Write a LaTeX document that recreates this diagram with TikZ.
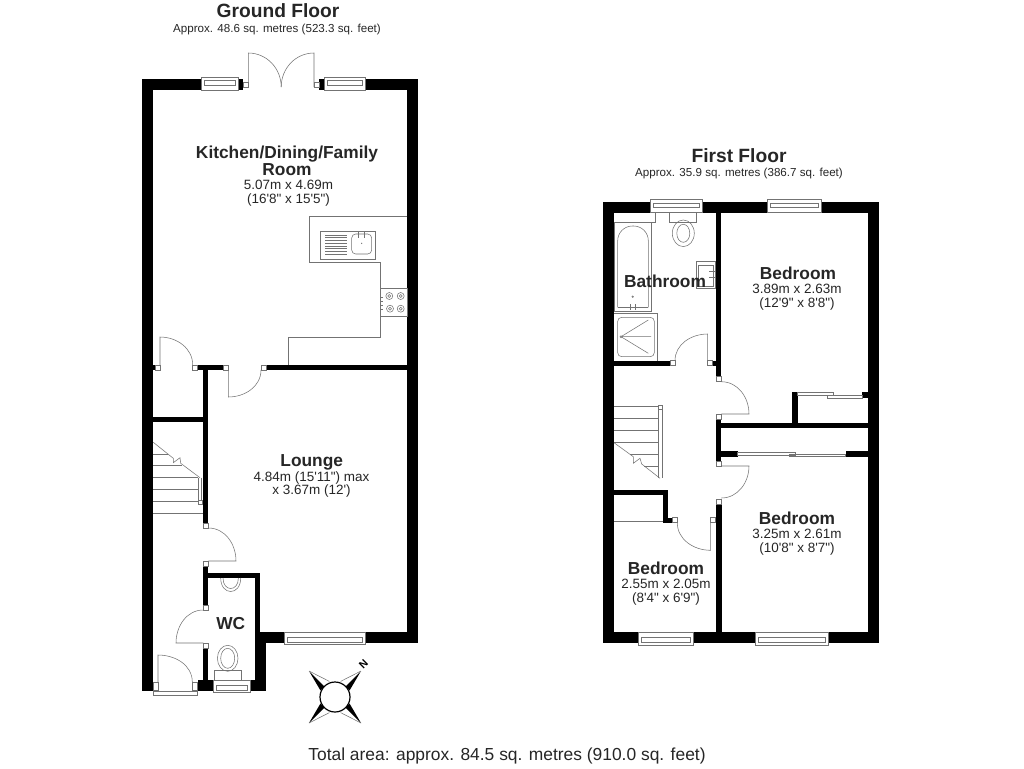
\documentclass[tikz,border=0pt]{standalone}
\usepackage{fontspec}
\newfontfamily\planfont{Liberation Sans}
\tikzset{
  wall/.style={fill=black,draw=none},
  fixture/.style={draw=black!55,line width=0.4pt},
  floorname/.style={font=\planfont\bfseries\fontsize{14.4}{15}\selectfont,text=black!85},
  floorarea/.style={font=\planfont\fontsize{8.7}{10}\selectfont,text=black!85},
  roomname/.style={font=\planfont\bfseries\fontsize{13}{12.75}\selectfont,text=black!85,align=center},
  roomsize/.style={font=\planfont\fontsize{10.1}{10.2}\selectfont,text=black!85,align=center}
}

\begin{document}
\begin{tikzpicture}[x=0.75pt,y=-0.75pt]
  \useasboundingbox (0,0) rectangle (1024,768);
  \fill[white] (0,0) rectangle (1024,768);

  % The walls of the ground floor
  \foreach \xa/\ya/\xb/\yb in {142.3/79.3/153.3/691, 142.3/79.3/201.7/90.3, 238.3/79.3/243.3/90.3,
    319/79.3/324/90.3, 365/79.3/418/90.3, 407.3/79.3/418/643, 260/632/284/643, 365.7/632/418/643,
    255/573/260.3/632, 255/632/266/691, 203.3/573/260.3/578, 203.3/365/208.3/523, 203.3/566/208.3/605,
    203.3/648/208.3/680, 197.7/680/213.3/691, 250/680/266/691, 197.7/365/223/370, 266.7/365/407.3/370,
    153.3/365/155/370, 153.3/416.7/203.3/422.3}
  {
    \fill[wall] (\xa,\ya) rectangle (\xb,\yb);
  }
  % The walls of the first floor
  \foreach \xa/\ya/\xb/\yb in {603/202/614/643.3, 603/202/650/212.7, 702.3/202/767/212.7, 821/202/879/212.7,
    868/202/879/643.3, 603/632.3/638.3/643.3, 693.3/632.3/755.7/643.3, 828.3/632.3/879/643.3,
    715.7/212.7/721/376.7, 716/419/721.3/461, 715.7/504/721.7/632.3, 712.7/360.7/721/365.7,
    614/360.7/670/365.7, 721/422.7/868/428.3, 792.3/392.3/797.7/423, 862.3/392.3/868/398.3,
    721.3/451/737.7/456.7, 845.7/451/868/456.7, 614/490/668.3/495, 663.3/490/668.3/522.7,
    663.3/517.7/672.3/522.7}
  {
    \fill[wall] (\xa,\ya) rectangle (\xb,\yb);
  }

  % The windows
  \foreach \xa/\xb/\ya/\yb/\yc/\yd in {201.7/238.3/77/90.3/80.7/85.3, 324/365/77/90.3/80.7/85.3,
    284/365.7/632/644.5/637/642, 213.3/250/680/692.7/685.7/690,
    650/702.3/199.3/212.7/203/207.5, 767/821/199.3/212.7/203/207.5,
    638.3/693.3/632.3/645/637.5/642.5, 755.7/828.3/632.3/645/637.5/642.5}
  {
    \draw[fixture,fill=white] (\xa,\ya) rectangle (\xb,\yb);
    \draw[fixture] (\xa+3,\yc) rectangle (\xb-3,\yd);
  }

  % The door jambs
  \foreach \xa/\ya in {155/365, 192.7/365, 223/365, 261/365, 203.3/523, 203.3/561, 203.3/605, 203.3/643,
    243.3/82.7, 314/82.7, 670/360.7, 707.7/360.7, 716/376.7, 716/414, 716/461, 716/499, 672.3/517.7, 710.7/517.7}
  {
    \draw[fixture,fill=white] (\xa,\ya) rectangle +(5,5);
  }
  \draw[fixture,fill=white] (153.3,682) rectangle (158,690);
  \draw[fixture,fill=white] (192.3,682) rectangle (197,690);
  \draw[fixture,fill=white] (153.3,691) rectangle (197,695);

  % The doors of the ground floor
  \draw[fixture] (248.3,87) -- (248.3,53) to[out=0,in=90] (281.2,87);
  \draw[fixture] (314,87) -- (314,53) to[out=180,in=90] (281.2,87);
  \draw[fixture] (160,365) -- (160,337) to[out=0,in=90] (192.7,365);
  \draw[fixture] (228.3,370) -- (228.3,397) to[out=0,in=-90] (261,370);
  \draw[fixture] (208.3,528) to[out=0,in=90] (236,561) -- (208.3,561);
  \draw[fixture] (203.3,610) to[out=180,in=90] (176,643) -- (203.3,643);
  \draw[fixture] (158,682) -- (158,655) to[out=0,in=90] (192.3,682);
  % The doors of the first floor
  \draw[fixture] (707.7,360.7) -- (707.7,334) to[out=180,in=90] (675,360.7);
  \draw[fixture] (721.3,381.7) to[out=0,in=90] (749,414) -- (721.3,414);
  \draw[fixture] (721.3,466) -- (749,466) to[out=-90,in=0] (721.3,498);
  \draw[fixture] (677.3,522.7) to[out=-90,in=180] (710.7,550.3) -- (710.7,522.7);
  % The sliding doors
  \draw[fixture] (797.7,392.3) rectangle (833.3,395);
  \draw[fixture] (827.3,395.7) rectangle (862.3,398.3);
  \draw[fixture] (737.7,452.3) rectangle (795,455);
  \draw[fixture] (789,454.3) rectangle (845.7,456.7);
  \draw[fixture] (614,521.7) -- (663.3,521.7);

  % The stairs of the ground floor
  \foreach \coo/\xb in {454/168, 465/182, 477.3/198.3, 489.3/198.3, 501/198.3}
  {
    \draw[fixture] (153.3,\coo) -- (\xb,\coo);
  }
  \draw[fixture] (153.3,513.3) -- (203.3,513.3);
  \draw[fixture] (153.3,442.3) -- (173.3,458.3) -- (173.3,462.7) -- (180,457.7) -- (180.7,463.3) -- (200,477.7);
  \draw[fixture] (198.3,477.7) -- (198.3,501) (201.7,477.7) -- (201.7,501);
  \draw[fixture,fill=white] (198,500) rectangle +(4,4);
  % The stairs of the first floor
  \foreach \xa/\coo in {614/406.7, 614/418.3, 614/430.7, 614/442.3, 630/454.3, 644/466}
  {
    \draw[fixture] (\xa,\coo) -- (658.3,\coo);
  }
  \draw[fixture] (614,442.7) -- (633.3,456.7) -- (633.3,463.3) -- (640,458.3) -- (641.7,464) -- (660,478.3);
  \draw[fixture] (658.3,406.7) -- (658.3,478.3) (662.3,406.7) -- (662.3,478.3);
  \draw[fixture,fill=white] (658.3,405) rectangle +(4,4);

  % The kitchen
  \draw[fixture] (407.3,216) -- (309.3,216) -- (309.3,262.7) -- (380.7,262.7) -- (380.7,337.3) -- (288.3,337.3) -- (288.3,365);
  \draw[fixture] (320,231) rectangle (375,259);
  \foreach \coo in {235,237.7,...,254.5}
  {
    \draw[fixture] (325,\coo) -- (346.7,\coo);
  }
  \draw[fixture,rounded corners=3pt] (351.7,234) rectangle (371.7,254);
  \draw[fixture] (358,232) -- (358,238) (364,232) -- (364,238);
  \fill[black!55] (361.7,243.3) circle[radius=0.7];
  \draw[fixture] (380.7,288) rectangle (407.3,316);
  \foreach \xa/\ya in {389.3/296, 400.7/296, 390/308.7, 400.7/308.7}
  {
    \draw[fixture] (\xa,\ya) circle[radius=3.5];
    \draw[fixture] (\xa,\ya) circle[radius=1.5];
  }
  \foreach \coo in {297,301,305,309}
  {
    \draw[fixture] (381,\coo) -- (382.5,\coo);
  }

  % The WC
  \draw[fixture] (220.7,578) .. controls (220.7,596) and (240.7,596) .. (240.7,578);
  \draw[fixture] (223,578) .. controls (223,592) and (238.4,592) .. (238.4,578);
  \draw[fixture] (214.3,670) rectangle (241.7,680);
  \draw[fixture] (227.7,658.3) ellipse[x radius=10.3,y radius=13];
  \draw[fixture] (227.7,658.3) ellipse[x radius=7,y radius=10];

  % The bathroom
  \draw[fixture] (614,222.3) -- (655,222.3) -- (655,212.7);
  \draw[fixture] (614,222.3) rectangle (651,311.7);
  \draw[fixture,rounded corners=11pt] (617.7,307.3) -- (617.7,226) -- (648.3,226) -- (648.3,307.3);
  \draw[fixture] (617.7,307.3) -- (648.3,307.3);
  \draw[fixture] (630.5,304) -- (630.5,309.5) (635,304) -- (635,309.5);
  \draw[fixture] (632.7,296.7) circle[radius=0.8];
  \draw[fixture] (614,313.3) -- (657.7,313.3) -- (657.7,360.7);
  \draw[fixture,rounded corners=3pt] (617.7,317.3) rectangle (654.3,356.7);
  \draw[fixture] (648.3,320) -- (621,336.7) -- (651,336.7) (621,336.7) -- (648.3,353.3);
  \draw[fixture,fill=white] (621,336.7) circle[radius=1];
  \draw[fixture] (669,212.7) rectangle (696.7,222.3);
  \draw[fixture] (683.3,233.3) ellipse[x radius=11,y radius=13.3];
  \draw[fixture] (683.3,233.3) ellipse[x radius=6.5,y radius=9];
  \draw[fixture] (696,261.7) rectangle (715.7,288.3);
  \draw[fixture] (698.5,265) rectangle (713,286);
  \draw[fixture] (709,271.5) -- (715,271.5) (709,277.5) -- (715,277.5);

  % The compass
  \foreach \dx/\dy/\sx/\sy in {-1/-1/-1/1, 1/-1/1/1, 1/1/1/-1, -1/1/-1/-1}
  {
    \fill[black] (335+\dx*26,697+\dy*26) -- (335+\dx*10.6+\sx*4,697+\dy*10.6+\sy*4) -- (335+\dx*10.6,697+\dy*10.6) -- cycle;
    \draw[fixture] (335+\dx*26,697+\dy*26) -- (335+\dx*10.6-\sx*5,697+\dy*10.6-\sy*5);
  }
  \draw[black,line width=0.9pt,fill=white] (335,697) circle[radius=15];

  % The labels
  \node[floorname] (groundtitle) at (278,11) {Ground Floor};
  \node[floorarea] (groundarea) at (277,29) {Approx. 48.6 sq. metres (523.3 sq. feet)};
  \node[floorname] (firsttitle) at (739,156) {First Floor};
  \node[floorarea] (firstarea) at (739,173) {Approx. 35.9 sq. metres (386.7 sq. feet)};
  \node[roomname] (kitchenname) at (287,160.5) {Kitchen/Dining/Family\\Room};
  \node[roomsize] (kitchensize) at (288.5,193) {5.07m x 4.69m\\(16'8" x 15'5")};
  \node[roomname] (loungename) at (311.7,462) {Lounge};
  \node[roomsize] (loungesize) at (311.5,484.5) {4.84m (15'11") max\\x 3.67m (12')};
  \node[roomname] (wcname) at (230.7,624) {WC};
  \node[roomname] (bathroomname) at (665,281.7) {Bathroom};
  \node[roomname] (bedroomnamea) at (798,273.5) {Bedroom};
  \node[roomsize] (bedroomsizea) at (797,297) {3.89m x 2.63m\\(12'9" x 8'8")};
  \node[roomname] (bedroomnameb) at (797,518.3) {Bedroom};
  \node[roomsize] (bedroomsizeb) at (797,542) {3.25m x 2.61m\\(10'8" x 8'7")};
  \node[roomname] (bedroomnamec) at (666,568) {Bedroom};
  \node[roomsize] (bedroomsizec) at (666,592) {2.55m x 2.05m\\(8'4" x 6'9")};
  \node[font=\planfont\bfseries\fontsize{8}{9}\selectfont,rotate=45] (northmark) at (363.5,664.5) {N};
  \node[font=\planfont\fontsize{13.05}{15}\selectfont,text=black!85] (totalarea) at (507,756) {Total area: approx. 84.5 sq. metres (910.0 sq. feet)};
\end{tikzpicture}
\end{document}
